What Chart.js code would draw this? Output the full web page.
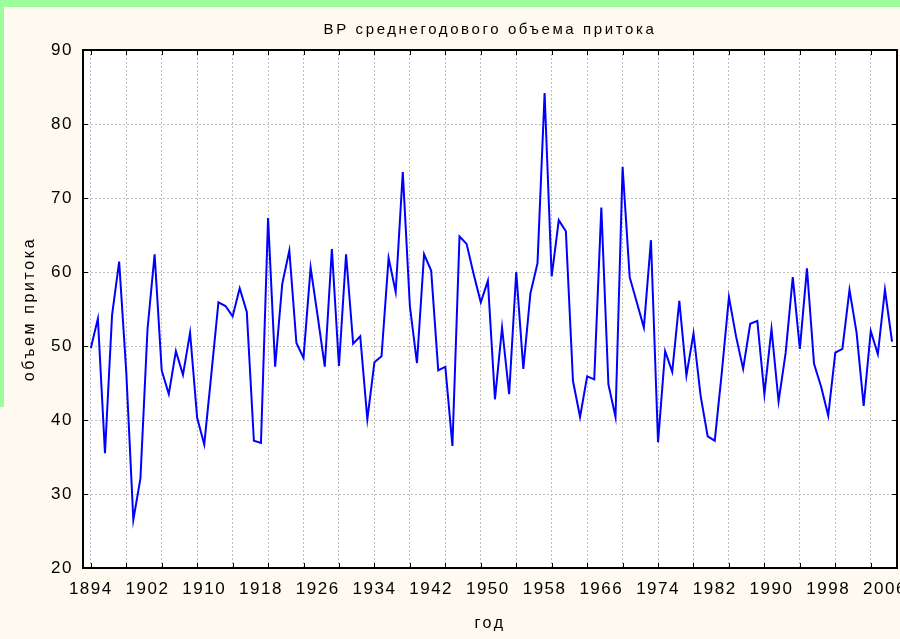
<!DOCTYPE html>
<html>
<head>
<meta charset="utf-8">
<script src="https://cdn.jsdelivr.net/npm/chart.js@4"></script>
<style>
    html, body { margin: 0; padding: 0; overflow: hidden; background: #FFFAEF; }
    #topBand { position: absolute; left: 0; top: 0; width: 900px; height: 7px; background: #9BFD9B; }
    #leftBand { position: absolute; left: 0; top: 0; width: 4px; height: 407px; background: #9BFD9B; }
    #chart { position: absolute; left: 0; top: 0; }
</style>
</head>
<body>
<div id="topBand"></div>
<div id="leftBand"></div>
<canvas id="chart" width="940" height="639"></canvas>
<script>
// годовой ряд притока
const years = [
    1894, 1895, 1896, 1897, 1898, 1899, 1900, 1901, 1902, 1903,
    1904, 1905, 1906, 1907, 1908, 1909, 1910, 1911, 1912, 1913,
    1914, 1915, 1916, 1917, 1918, 1919, 1920, 1921, 1922, 1923,
    1924, 1925, 1926, 1927, 1928, 1929, 1930, 1931, 1932, 1933,
    1934, 1935, 1936, 1937, 1938, 1939, 1940, 1941, 1942, 1943,
    1944, 1945, 1946, 1947, 1948, 1949, 1950, 1951, 1952, 1953,
    1954, 1955, 1956, 1957, 1958, 1959, 1960, 1961, 1962, 1963,
    1964, 1965, 1966, 1967, 1968, 1969, 1970, 1971, 1972, 1973,
    1974, 1975, 1976, 1977, 1978, 1979, 1980, 1981, 1982, 1983,
    1984, 1985, 1986, 1987, 1988, 1989, 1990, 1991, 1992, 1993,
    1994, 1995, 1996, 1997, 1998, 1999, 2000, 2001, 2002, 2003,
    2004, 2005, 2006, 2007
];
const inflow = [
    49.7, 53.7, 35.5, 54.2, 61.4, 46.5, 26.5, 32.1, 52.3, 62.4,
    46.7, 43.5, 49.3, 46.1, 51.8, 40.3, 36.7, 46.2, 55.9, 55.4,
    54.0, 57.8, 54.6, 37.2, 36.9, 67.3, 47.2, 58.4, 62.9, 50.4,
    48.4, 60.6, 54.0, 47.2, 63.1, 47.3, 62.4, 50.3, 51.3, 40.1,
    47.8, 48.6, 61.9, 57.3, 73.5, 55.4, 47.7, 62.4, 60.2, 46.7,
    47.2, 36.5, 64.8, 63.8, 59.7, 55.9, 58.8, 42.8, 52.5, 43.5,
    60.0, 46.9, 57.1, 61.2, 84.2, 59.4, 67.0, 65.5, 45.3, 40.4,
    45.9, 45.5, 68.7, 44.8, 40.4, 74.2, 59.3, 55.9, 52.5, 64.3,
    37.0, 49.3, 46.5, 56.1, 46.0, 51.7, 43.3, 37.8, 37.2, 46.5,
    56.6, 51.3, 46.9, 53.0, 53.4, 43.5, 52.3, 42.5, 49.1, 59.3,
    49.6, 60.5, 47.6, 44.5, 40.6, 49.1, 49.6, 57.6, 51.8, 41.9,
    52.0, 48.9, 57.6, 50.6
];

const xLabelYears = [1894, 1902, 1910, 1918, 1926, 1934, 1942, 1950, 1958, 1966, 1974, 1982, 1990, 1998, 2006];
const xGridYears = [1894, 1899, 1904, 1909, 1914, 1919, 1924, 1929, 1934, 1939, 1944, 1949, 1954, 1959, 1964, 1969, 1974, 1979, 1984, 1989, 1994, 1999, 2004];
const yTicks = [20, 30, 40, 50, 60, 70, 80, 90];

const FONT = "'Liberation Sans', Arial, sans-serif";

const points = years.map((y, i) => ({ x: y, y: inflow[i] }));

// белое поле графика, рамка и внутренние засечки как в STATISTICA
const framePlugin = {
    id: 'frame',
    beforeDraw(chart) {
        const a = chart.chartArea;
        const ctx = chart.ctx;
        ctx.save();
        ctx.fillStyle = '#ffffff';
        ctx.fillRect(a.left, a.top, a.right - a.left, a.bottom - a.top);
        ctx.restore();
        ctx.letterSpacing = '2.6px';
    },
    afterDraw(chart) {
        const a = chart.chartArea;
        const ctx = chart.ctx;
        const xg = chart.scales.xg;
        const y = chart.scales.y;
        ctx.save();
        ctx.strokeStyle = '#000';
        ctx.lineWidth = 1;
        ctx.beginPath();
        xg.ticks.forEach(t => {
            const px = Math.round(xg.getPixelForValue(t.value)) + 0.5;
            ctx.moveTo(px, a.bottom); ctx.lineTo(px, a.bottom - 5);
            ctx.moveTo(px, a.top); ctx.lineTo(px, a.top + 5);
        });
        y.ticks.forEach(t => {
            const py = Math.round(y.getPixelForValue(t.value)) + 0.5;
            ctx.moveTo(a.left, py); ctx.lineTo(a.left + 5, py);
            ctx.moveTo(a.right, py); ctx.lineTo(a.right - 5, py);
        });
        ctx.stroke();
        ctx.lineWidth = 2;
        ctx.strokeRect(a.left, a.top, a.right - a.left, a.bottom - a.top);
        ctx.restore();
    }
};

function tickColor(c) {
    c.chart.ctx.letterSpacing = '1.5px';
    return '#000';
}

new Chart(document.getElementById('chart'), {
    type: 'line',
    data: {
        datasets: [{
            data: points,
            borderColor: '#0000FF',
            borderWidth: 2,
            pointRadius: 0,
            tension: 0,
            fill: false
        }]
    },
    options: {
        responsive: false,
        animation: false,
        devicePixelRatio: 1,
        layout: { padding: { left: 0, top: 0, right: 43, bottom: 0 } },
        plugins: {
            legend: { display: false },
            tooltip: { enabled: false },
            title: {
                display: true,
                text: 'ВР среднегодового объема притока',
                fullSize: false,
                color: '#000',
                font: { family: FONT, size: 15, weight: 'normal' },
                padding: { top: 21, bottom: 11 }
            }
        },
        scales: {
            x: {
                type: 'linear',
                position: 'bottom',
                min: 1892.9,
                max: 2007.7,
                afterBuildTicks: s => { s.ticks = xLabelYears.map(v => ({ value: v })); },
                afterFit: s => { s.height = 71; },
                grid: { display: false, drawTicks: false },
                border: { display: false },
                ticks: {
                    autoSkip: false,
                    maxRotation: 0,
                    padding: 11,
                    color: tickColor,
                    font: { family: FONT, size: 17 },
                    callback: v => String(v)
                },
                title: {
                    display: true,
                    text: 'год',
                    color: '#000',
                    font: { family: FONT, size: 16 },
                    padding: { top: 0, bottom: 6 }
                }
            },
            xg: {
                type: 'linear',
                position: 'top',
                min: 1892.9,
                max: 2007.7,
                afterBuildTicks: s => { s.ticks = xGridYears.map(v => ({ value: v })); },
                afterFit: s => { s.height = 0; },
                grid: { color: '#BDBDBD', lineWidth: 1, drawTicks: false },
                border: { display: false, dash: [2, 2] },
                ticks: { display: false }
            },
            y: {
                min: 20,
                max: 90,
                afterBuildTicks: s => { s.ticks = yTicks.map(v => ({ value: v })); },
                afterFit: s => { s.width = 83; },
                grid: { color: '#BDBDBD', lineWidth: 1, drawTicks: false },
                border: { display: false, dash: [2, 2] },
                ticks: {
                    padding: 10,
                    color: tickColor,
                    font: { family: FONT, size: 17 }
                },
                title: {
                    display: true,
                    text: 'объем притока',
                    color: '#000',
                    font: { family: FONT, size: 16 },
                    padding: { top: 20, bottom: 0 }
                }
            }
        }
    },
    plugins: [framePlugin]
});
</script>
</body>
</html>
